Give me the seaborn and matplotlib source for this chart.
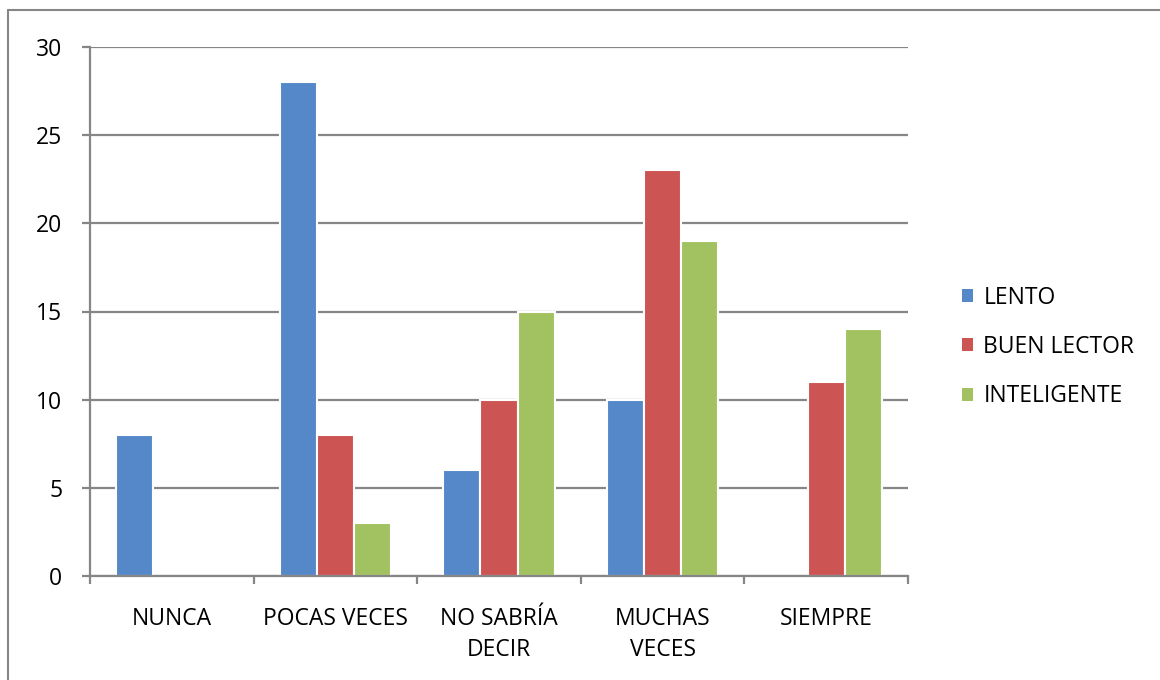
import matplotlib
matplotlib.use("Agg")
import matplotlib.pyplot as plt
from matplotlib.lines import Line2D
from matplotlib.patches import Patch
import numpy as np
import pandas as pd
import seaborn as sns

CATEGORIES = ["NUNCA", "POCAS VECES", "NO SABRÍA\nDECIR", "MUCHAS\nVECES", "SIEMPRE"]
SERIES = ["LENTO", "BUEN LECTOR", "INTELIGENTE"]
LENTO = [8, 28, 6, 10, 0]
BUEN_LECTOR = [0, 8, 10, 23, 11]
INTELIGENTE = [0, 3, 15, 19, 14]
Y_TICKS = [0, 5, 10, 15, 20, 25, 30]

COLORS = ["#5588C8", "#CC5452", "#A2C262"]

df = pd.DataFrame({
    "categoria": CATEGORIES * 3,
    "serie": [s for s in SERIES for _ in CATEGORIES],
    "valor": LENTO + BUEN_LECTOR + INTELIGENTE,
})

sns.set_style("white")
plt.rcParams["font.family"] = ["Open Sans", "DejaVu Sans"]
plt.rcParams["text.color"] = "black"
plt.rcParams["xtick.color"] = "black"
plt.rcParams["ytick.color"] = "black"

fig = plt.figure(figsize=(11.6, 6.8), dpi=100)
ax = fig.add_axes([90 / 1160, 104 / 680, 818 / 1160, 529 / 680])

sns.barplot(data=df, x="categoria", y="valor", hue="serie",
            order=CATEGORIES, hue_order=SERIES, palette=COLORS,
            width=0.68, edgecolor="white", linewidth=1.5,
            saturation=1, errorbar=None, legend=False, ax=ax)

ax.set_ylim(0, 30)
ax.set_xlim(-0.5, len(CATEGORIES) - 0.5)
ax.set_yticks(Y_TICKS)
ax.set_xlabel("")
ax.set_ylabel("")
ax.set_axisbelow(True)
ax.grid(axis="y", color="#868686", linewidth=1.6)
ax.grid(axis="x", visible=False)

for side in ["top", "right"]:
    ax.spines[side].set_visible(False)
for side in ["left", "bottom"]:
    ax.spines[side].set_color("#868686")
    ax.spines[side].set_linewidth(1.6)

ax.tick_params(axis="y", which="major", left=True, length=6, width=1.6,
               color="#868686", labelcolor="black", labelsize=16.5, pad=14)
ax.tick_params(axis="x", which="major", bottom=False, labelcolor="black",
               labelsize=16.5, pad=19)
ax.set_xticks(np.arange(-0.5, len(CATEGORIES)), minor=True)
ax.tick_params(axis="x", which="minor", bottom=True, length=6, width=1.6,
               color="#868686")
for lbl in ax.get_xticklabels():
    lbl.set_linespacing(1.4)

handles = [Patch(facecolor=c, edgecolor="none") for c in COLORS]
fig.legend(handles, SERIES, loc="center left",
           bbox_to_anchor=(941 / 1160, 1 - 347 / 680), frameon=False,
           fontsize=16.5, handlelength=0.5, handleheight=0.5,
           handletextpad=0.45, labelspacing=1.1)

# thin frame around the chart area
fig.add_artist(Line2D([8 / 1160, 8 / 1160], [0, 1 - 10 / 680],
                      transform=fig.transFigure, color="#868686", linewidth=1.5))
fig.add_artist(Line2D([8 / 1160, 1], [1 - 10 / 680, 1 - 10 / 680],
                      transform=fig.transFigure, color="#868686", linewidth=1.5))

fig.savefig("out.png", dpi=100, facecolor="white")
